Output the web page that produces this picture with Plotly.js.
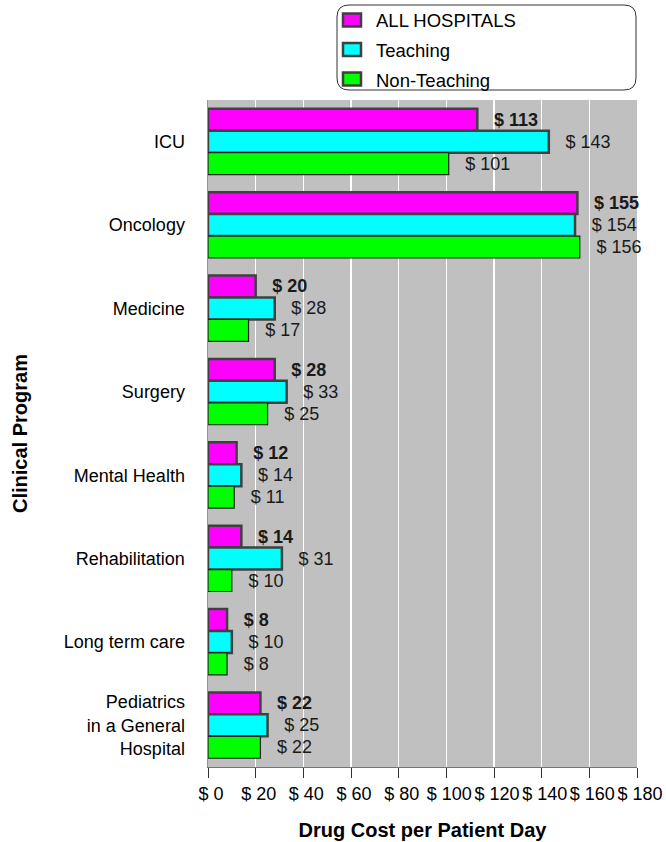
<!DOCTYPE html>
<html>
<head>
<meta charset="utf-8">
<script src="https://cdn.plot.ly/plotly-3.0.1.min.js"></script>
<style>html,body{margin:0;padding:0;background:#fff;}#chart{width:666px;height:842px;}</style>
</head>
<body>
<div id="chart"></div>
<script>
var categories = ["ICU", "Oncology", "Medicine", "Surgery", "Mental Health", "Rehabilitation", "Long term care", "Pediatrics<br>in a General<br>Hospital"];
var seriesNames = ["ALL HOSPITALS", "Teaching", "Non-Teaching"];
var allHospitals = [113, 155, 20, 28, 12, 14, 8, 22];
var teaching = [143, 154, 28, 33, 14, 31, 10, 25];
var nonTeaching = [101, 156, 17, 25, 11, 10, 8, 22];
var xTicks = [0, 20, 40, 60, 80, 100, 120, 140, 160, 180];

var FONT = '"Liberation Sans", Arial, sans-serif';
var NB = '\u00a0\u00a0\u2009';
var seriesColors = ['#ff00ff', '#00ffff', '#00ff00'];
var seriesLine = ['#404040', '#404040', '#202020'];
var seriesLineW = [2.5, 2.5, 1.2];
var seriesVals = [allHospitals, teaching, nonTeaching];

function makeTrace(i) {
  var vals = seriesVals[i], bold = (i === 0);
  return {
    type: 'bar', orientation: 'h', name: seriesNames[i],
    y: categories, x: vals,
    marker: {color: seriesColors[i], line: {color: seriesLine[i], width: seriesLineW[i]}},
    text: vals.map(function(v){ return NB + (bold ? '<b>$ ' + v + '</b>' : '$ ' + v); }),
    textposition: 'outside', constraintext: 'none', cliponaxis: false,
    textfont: {family: FONT, size: 18, color: '#1a1a1a'},
    hoverinfo: 'x+y'
  };
}
var data = [makeTrace(0), makeTrace(1), makeTrace(2)];

var W = 666, H = 842;
var L = 208, R = 637, T = 100, B = 767;
function px(x){ return (x - L) / (R - L); }
function py(y){ return (B - y) / (B - T); }
var bx0 = px(337), bx1 = px(636), by0 = py(90), by1 = py(5);
var rx = 12 / (R - L), ry = 12 / (B - T);
var boxPath = 'M' + (bx0 + rx) + ',' + by1 +
  ' L' + (bx1 - rx) + ',' + by1 + ' Q' + bx1 + ',' + by1 + ' ' + bx1 + ',' + (by1 - ry) +
  ' L' + bx1 + ',' + (by0 + ry) + ' Q' + bx1 + ',' + by0 + ' ' + (bx1 - rx) + ',' + by0 +
  ' L' + (bx0 + rx) + ',' + by0 + ' Q' + bx0 + ',' + by0 + ' ' + bx0 + ',' + (by0 + ry) +
  ' L' + bx0 + ',' + (by1 - ry) + ' Q' + bx0 + ',' + by1 + ' ' + (bx0 + rx) + ',' + by1 + ' Z';

var shapes = [{
  type: 'path', xref: 'paper', yref: 'paper', path: boxPath,
  line: {color: '#333', width: 1}, fillcolor: '#ffffff', layer: 'above'
}];
var annotations = [];
var rowY = [20, 49.5, 79];
for (var i = 0; i < 3; i++) {
  shapes.push({
    type: 'rect', xref: 'paper', yref: 'paper',
    x0: px(343), x1: px(361), y0: py(rowY[i] + 6.5), y1: py(rowY[i] - 6.5),
    fillcolor: seriesColors[i], line: {color: '#404040', width: 2.5}, layer: 'above'
  });
  annotations.push({
    xref: 'paper', yref: 'paper', x: px(374), y: py(rowY[i] + 1), xanchor: 'left', yanchor: 'middle',
    text: seriesNames[i], showarrow: false, font: {family: FONT, size: 18.5, color: '#000'}
  });
}

var layout = {
  width: W, height: H,
  margin: {l: L, r: W - R, t: T, b: H - B, pad: 0},
  paper_bgcolor: '#ffffff', plot_bgcolor: '#c0c0c0',
  font: {family: FONT, size: 18, color: '#000'},
  barmode: 'group', bargap: 0.21, bargroupgap: 0,
  showlegend: false,
  xaxis: {
    range: [0, 180], tickvals: xTicks, ticktext: xTicks.map(function(v){ return '$ ' + v; }),
    showgrid: true, gridcolor: '#ffffff', gridwidth: 1.5,
    zeroline: false, showline: true, linecolor: '#7a7a50', linewidth: 1,
    ticks: 'outside', ticklen: 10, tickcolor: '#333', tickwidth: 1, ticklabelshift: 3,
    tickfont: {family: FONT, size: 18, color: '#000'},
    title: {text: '<b>Drug Cost per Patient Day</b>', font: {family: FONT, size: 20, color: '#000'}, standoff: 20},
    fixedrange: true
  },
  yaxis: {
    autorange: 'reversed', type: 'category',
    showgrid: false, zeroline: false, showline: true, linecolor: '#9a9a70', linewidth: 1.5,
    ticks: '', ticklabelstandoff: 18,
    tickfont: {family: FONT, size: 18, color: '#000'},
    title: {text: '<b>Clinical Program</b>', font: {family: FONT, size: 20, color: '#000'}, standoff: 31},
    fixedrange: true
  },
  shapes: shapes,
  annotations: annotations
};

Plotly.newPlot('chart', data, layout, {displayModeBar: false, staticPlot: true});
</script>
</body>
</html>
